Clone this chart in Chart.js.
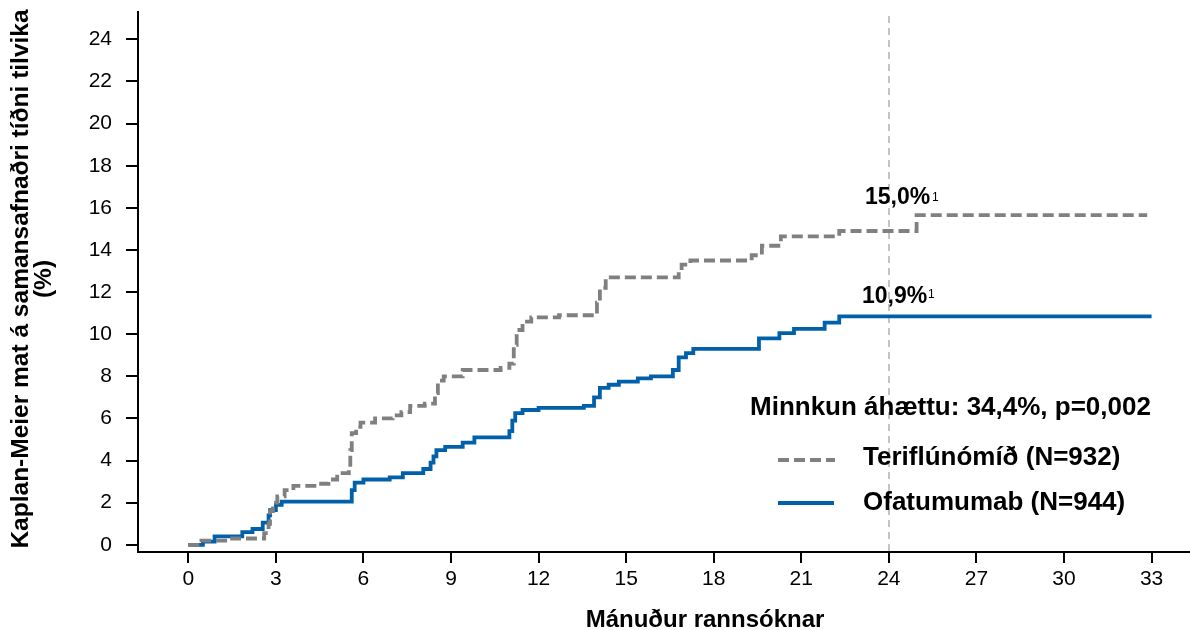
<!DOCTYPE html>
<html>
<head>
<meta charset="utf-8">
<script src="https://cdn.jsdelivr.net/npm/chart.js@4.4.1/dist/chart.umd.min.js"></script>
<style>
  html, body { margin: 0; padding: 0; background: #fff; }
  #wrap { width: 1190px; height: 630px; }
</style>
</head>
<body>
<div id="wrap"><canvas id="kmChart" width="1190" height="630"></canvas></div>
<script>
// Kaplan-Meier steps (month, cumulative %)
const teriMonths = [0, 0.45, 1.5, 2.6, 2.75, 2.8, 2.9, 3.05, 3.3, 3.6, 4.4, 4.8, 5.1, 5.5, 5.55, 5.6, 5.75, 5.9,
    6.4, 7.0, 7.3, 7.6, 8.1, 8.45, 8.55, 8.75, 9.4, 10.7, 11.0, 11.15, 11.25, 11.45, 11.75, 12.7,
    14.0, 14.1, 14.3, 16.8, 16.9, 17.2, 19.3, 19.65, 20.3, 22.3, 24.95, 32.85];
const teriValues = [0, 0.2, 0.3, 0.55, 1.0, 1.6, 2.0, 2.3, 2.6, 2.8, 2.9, 3.1, 3.4, 3.6, 4.5, 5.3, 5.6, 5.8,
    6.0, 6.15, 6.3, 6.6, 6.7, 7.2, 7.8, 8.0, 8.3, 8.4, 8.6, 9.5, 10.2, 10.6, 10.8, 10.9,
    11.5, 12.2, 12.7, 13.0, 13.3, 13.5, 13.75, 14.2, 14.65, 14.9, 15.65, 15.65];

const ofaMonths = [0, 0.5, 0.9, 1.85, 2.2, 2.55, 2.75, 2.8, 3.0, 3.2, 5.6, 5.7, 6.0, 6.9, 7.35, 8.05, 8.3, 8.4,
    8.5, 8.8, 9.4, 9.8, 11.0, 11.1, 11.2, 11.45, 12.0, 13.55, 13.9, 14.1, 14.4, 14.75, 15.4, 15.85,
    16.6, 16.8, 17.05, 17.3, 19.55, 20.25, 20.75, 21.8, 22.3, 33.0];
const ofaValues = [0, 0.15, 0.4, 0.6, 0.75, 1.05, 1.4, 1.65, 1.9, 2.05, 2.6, 2.95, 3.1, 3.2, 3.4, 3.6, 3.9, 4.2,
    4.5, 4.65, 4.85, 5.1, 5.4, 5.9, 6.25, 6.4, 6.5, 6.6, 7.0, 7.45, 7.6, 7.75, 7.9, 8.0,
    8.3, 8.9, 9.1, 9.3, 9.8, 10.05, 10.25, 10.55, 10.85, 10.85];

const xTicks = [0, 3, 6, 9, 12, 15, 18, 21, 24, 27, 30, 33];
const yTicks = [0, 2, 4, 6, 8, 10, 12, 14, 16, 18, 20, 22, 24];

const seriesNames = ['Teriflúnómíð (N=932)', 'Ofatumumab (N=944)'];
const seriesColors = ['#808080', '#0060a9'];
const endLabels = ['15,0%', '10,9%'];
const landmarkMonth = 24;

const FONT = '"Liberation Sans", Arial, Helvetica, sans-serif';

function toPoints(xs, ys) {
    return xs.map((x, i) => ({ x: x, y: ys[i] }));
}

// reference line, labels, legend and axis titles
const decorPlugin = {
    id: 'decor',
    beforeDatasetsDraw(chart) {
        const { ctx, chartArea, scales } = chart;
        const px = Math.round(scales.x.getPixelForValue(landmarkMonth));
        ctx.save();
        ctx.strokeStyle = '#c4c4c4';
        ctx.lineWidth = 2;
        ctx.setLineDash([7, 5]);
        ctx.beginPath();
        ctx.moveTo(px, chartArea.top + 4);
        ctx.lineTo(px, chartArea.bottom - 1);
        ctx.stroke();
        ctx.restore();
    },
    afterDraw(chart) {
        const ctx = chart.ctx;
        ctx.save();
        ctx.fillStyle = '#000';
        ctx.textBaseline = 'alphabetic';

        // end values with footnote mark
        ctx.font = 'bold 23px ' + FONT;
        ctx.textAlign = 'left';
        ctx.fillText(endLabels[0], 865, 204);
        ctx.fillText(endLabels[1], 862, 303);
        ctx.font = '12px ' + FONT;
        ctx.fillText('1', 932, 201);
        ctx.fillText('1', 928, 298);

        // legend
        ctx.font = 'bold 26px ' + FONT;
        ctx.fillText('Minnkun áhættu: 34,4%, p=0,002', 750, 415);
        ctx.fillText(seriesNames[0], 863, 465);
        ctx.fillText(seriesNames[1], 863, 510);

        ctx.lineWidth = 3.8;
        ctx.strokeStyle = seriesColors[0];
        ctx.setLineDash([11, 5]);
        ctx.beginPath();
        ctx.moveTo(778, 460);
        ctx.lineTo(835, 460);
        ctx.stroke();
        ctx.setLineDash([]);
        ctx.strokeStyle = seriesColors[1];
        ctx.beginPath();
        ctx.moveTo(778, 503);
        ctx.lineTo(834, 503);
        ctx.stroke();

        // axis titles
        ctx.font = 'bold 24px ' + FONT;
        ctx.textAlign = 'center';
        ctx.textBaseline = 'middle';
        ctx.fillText('Mánuður rannsóknar', 705, 620);

        ctx.font = 'bold 24.5px ' + FONT;
        ctx.save();
        ctx.translate(21, 279);
        ctx.rotate(-Math.PI / 2);
        ctx.fillText('Kaplan-Meier mat á samansafnaðri tíðni tilvika', 0, 0);
        ctx.restore();
        ctx.save();
        ctx.translate(44, 279);
        ctx.rotate(-Math.PI / 2);
        ctx.fillText('(%)', 0, 0);
        ctx.restore();

        ctx.restore();
    }
};

const ctx = document.getElementById('kmChart').getContext('2d');
new Chart(ctx, {
    type: 'line',
    data: {
        datasets: [
            {
                label: seriesNames[0],
                data: toPoints(teriMonths, teriValues),
                borderColor: seriesColors[0],
                borderWidth: 3.8,
                borderDash: [11, 5],
                stepped: true,
                pointRadius: 0,
                fill: false
            },
            {
                label: seriesNames[1],
                data: toPoints(ofaMonths, ofaValues),
                borderColor: seriesColors[1],
                borderWidth: 3.8,
                stepped: true,
                pointRadius: 0,
                fill: false
            }
        ]
    },
    options: {
        responsive: false,
        animation: false,
        layout: { padding: { top: 12, right: 0, left: 0, bottom: 0 } },
        plugins: {
            legend: { display: false },
            tooltip: { enabled: false },
            title: { display: false }
        },
        scales: {
            x: {
                type: 'linear',
                min: -1.723,
                max: 34.316,
                afterBuildTicks: s => { s.ticks = xTicks.map(v => ({ value: v })); },
                afterFit: s => {
                    s.height = 78;
                    s.paddingLeft = 0;
                    s.paddingRight = 0;
                },
                ticks: {
                    autoSkip: false,
                    maxRotation: 0,
                    padding: 4,
                    color: '#000',
                    font: { family: FONT, size: 21 }
                },
                grid: {
                    display: true,
                    drawOnChartArea: false,
                    drawTicks: true,
                    tickLength: 11,
                    color: '#000',
                    lineWidth: 2
                },
                border: { display: true, color: '#000', width: 2 }
            },
            y: {
                type: 'linear',
                min: -0.342,
                max: 25.30,
                afterBuildTicks: s => { s.ticks = yTicks.map(v => ({ value: v })); },
                afterFit: s => {
                    s.width = 138;
                    s.paddingTop = 0;
                    s.paddingBottom = 0;
                },
                ticks: {
                    autoSkip: false,
                    padding: 14,
                    color: '#000',
                    font: { family: FONT, size: 21 }
                },
                grid: {
                    display: true,
                    drawOnChartArea: false,
                    drawTicks: true,
                    tickLength: 12,
                    color: '#000',
                    lineWidth: 2
                },
                border: { display: true, color: '#000', width: 2 }
            }
        }
    },
    plugins: [decorPlugin]
});
</script>
</body>
</html>
